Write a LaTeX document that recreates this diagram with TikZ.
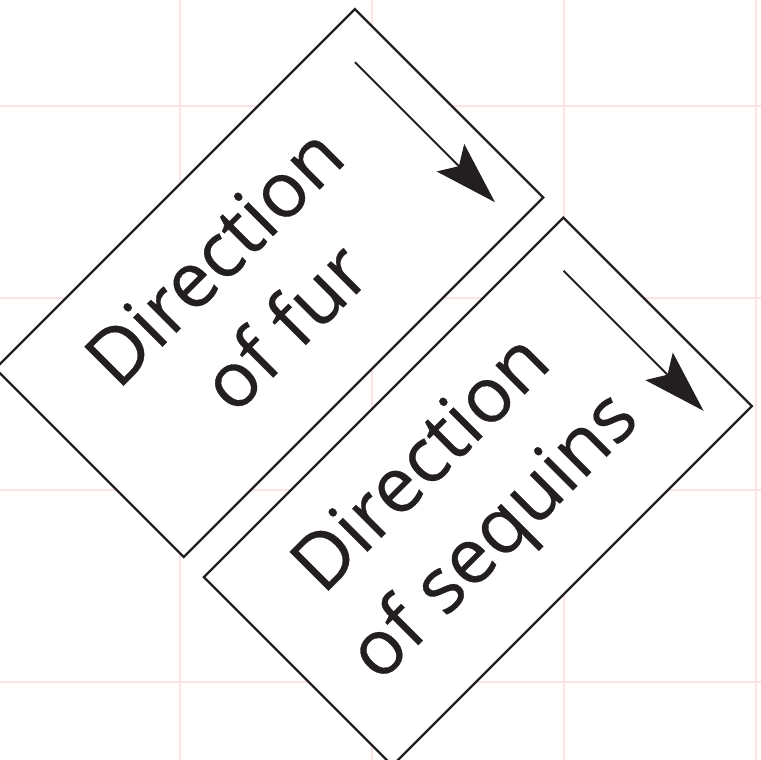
\documentclass[tikz,border=0pt]{standalone}
\usepackage{fontspec}
\setmainfont{Open Sans}
\newfontfamily\lblfont{Open Sans}[FakeBold=0.4]
\definecolor{ink}{HTML}{231F20}
\definecolor{gridpink}{HTML}{FCE3E3}
\begin{document}
\begin{tikzpicture}[x=1pt,y=1pt,
  gridline/.style={draw=gridpink,line width=1.5pt},
  panel/.style={draw=ink,fill=white,line width=2.3pt,line join=miter},
  lbl/.style={text=ink,font=\lblfont\fontsize{77}{77}\selectfont,anchor=base,inner sep=0pt},
  dirline/.style={draw=ink,line width=1.9pt},
  headfill/.style={fill=ink}]
\path[use as bounding box] (0,0) rectangle (761,-760);
\clip (0,0) rectangle (761,-760);
\foreach \g in {180,372,564,756}{\draw[gridline] (\g,0) -- (\g,-760);}
\foreach \g in {106,298,490,682}{\draw[gridline] (0,-\g) -- (761,-\g);}
\begin{scope}[rotate=45, transform shape]
  % panel 1
  \draw[panel] (-264,-257.3) rectangle (244.5,-523.8);
  \node[lbl] (d1) at (-30,-360) {Direction};
  \node[lbl] (f1) at (-30,-460) {of fur};
  \coordinate (a1s) at (207,-295);
  \coordinate (a1e) at (207,-445);
  \draw[dirline] (a1s) -- (a1e);
  \path[headfill] (207,-493) -- (187.5,-430) -- (207,-442) -- (226.5,-430) -- cycle;
  % panel 2
  \draw[panel] (-264,-552.3) rectangle (244.5,-818.8);
  \node[lbl] (d2) at (-30,-650) {Direction};
  \node[lbl] (f2) at (-30,-752) {of sequins};
  \coordinate (a2s) at (207,-590);
  \coordinate (a2e) at (207,-740);
  \draw[dirline] (a2s) -- (a2e);
  \path[headfill] (207,-788) -- (187.5,-725) -- (207,-737) -- (226.5,-725) -- cycle;
\end{scope}
\end{tikzpicture}
\end{document}
